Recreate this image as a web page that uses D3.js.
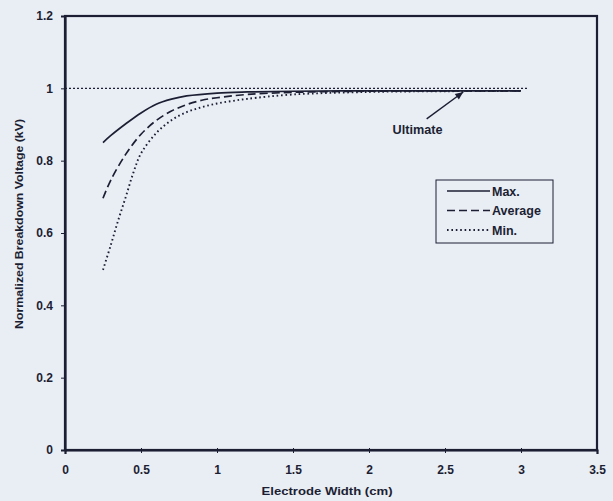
<!DOCTYPE html>
<html><head><meta charset="utf-8">
<script src="https://cdn.jsdelivr.net/npm/d3@7"></script>
<style>
html,body{margin:0;padding:0;background:#e9edf4;}
svg{display:block;}
text{font-family:"Liberation Sans",Arial,sans-serif;font-weight:bold;fill:#1c1f33;}
</style></head>
<body>
<svg id="chart" width="613" height="501"></svg>
<script>
// ---- data ----
const xTicks = [0, 0.5, 1, 1.5, 2, 2.5, 3, 3.5];
const yTicks = [0, 0.2, 0.4, 0.6, 0.8, 1, 1.2];
const xTickLabels = ["0", "0.5", "1", "1.5", "2", "2.5", "3", "3.5"];
const yTickLabels = ["0", "0.2", "0.4", "0.6", "0.8", "1", "1.2"];

const maxX = [0.25, 0.3, 0.4, 0.5, 0.6, 0.7, 0.8, 1.0, 1.2, 1.5, 2.0, 2.5, 3.0];
const maxY = [0.850, 0.869, 0.902, 0.932, 0.956, 0.970, 0.979, 0.987, 0.990, 0.992, 0.993, 0.993, 0.993];

const avgX = [0.25, 0.3, 0.4, 0.5, 0.6, 0.7, 0.8, 0.9, 1.0, 1.2, 1.5, 2.0, 2.5, 3.0];
const avgY = [0.696, 0.745, 0.818, 0.873, 0.911, 0.937, 0.955, 0.967, 0.974, 0.983, 0.989, 0.992, 0.993, 0.993];

const minX = [0.25, 0.3, 0.35, 0.4, 0.45, 0.5, 0.6, 0.7, 0.8, 0.9, 1.0, 1.1, 1.2, 1.5, 2.0, 2.5, 3.0];
const minY = [0.498, 0.565, 0.635, 0.700, 0.767, 0.820, 0.876, 0.912, 0.934, 0.948, 0.958, 0.965, 0.971, 0.983, 0.990, 0.992, 0.993];

const ultimateX = [0, 3.05];
const ultimateY = [1, 1];
const ultimatePoint = [2.62, 0.99];
const ultimateLabelPos = [2.32, 0.885];

const seriesNames = ["Max.", "Average", "Min."];

// ---- layout ----
const svg = d3.select("#chart");
const margin = {left: 65, top: 16, right: 16, bottom: 51};
const W = 613, H = 501;
const x = d3.scaleLinear().domain([0, 3.5]).range([margin.left, W - margin.right]);
const y = d3.scaleLinear().domain([0, 1.2]).range([H - margin.bottom, margin.top]);
const ink = "#1c1f33";
const font = "'Liberation Sans',Arial,sans-serif";

// plot frame
svg.append("rect")
  .attr("x", x(0)).attr("y", y(1.2))
  .attr("width", x(3.5) - x(0)).attr("height", y(0) - y(1.2))
  .attr("fill", "none").attr("stroke", ink).attr("stroke-width", 2.2);

// axes
const xAxis = d3.axisBottom(x).tickValues(xTicks).tickSize(4)
  .tickFormat((d, i) => xTickLabels[i]);
const gx = svg.append("g").attr("transform", `translate(0,${y(0)})`).call(xAxis);
gx.select(".domain").attr("stroke", ink).attr("stroke-width", 2.2);
gx.selectAll(".tick line").attr("stroke", ink).attr("y1", -2).attr("y2", 3);
gx.selectAll(".tick text").attr("dy", "1.45em").style("font-size", "12px")
  .style("font-family", font).style("font-weight", "bold").attr("fill", ink);

const yAxis = d3.axisLeft(y).tickValues(yTicks).tickSize(4)
  .tickFormat((d, i) => yTickLabels[i]);
const gy = svg.append("g").attr("transform", `translate(${x(0)},0)`).call(yAxis);
gy.select(".domain").attr("stroke", ink).attr("stroke-width", 2.2);
gy.selectAll(".tick line").attr("stroke", ink);
gy.selectAll(".tick text").attr("x", -12).style("font-size", "12px")
  .style("font-family", font).style("font-weight", "bold").attr("fill", ink);

// axis titles
svg.append("text")
  .attr("x", 327).attr("y", 495)
  .attr("text-anchor", "middle").style("font-size", "11.5px")
  .attr("textLength", 131).attr("lengthAdjust", "spacingAndGlyphs")
  .text("Electrode Width (cm)");
svg.append("text")
  .attr("transform", `translate(23,224) rotate(-90)`)
  .attr("text-anchor", "middle").style("font-size", "11px").attr("fill", "#1e2250")
  .attr("textLength", 210).attr("lengthAdjust", "spacingAndGlyphs")
  .text("Normalized Breakdown Voltage (kV)");

// lines
const line = d3.line().x(d => x(d[0])).y(d => y(d[1])).curve(d3.curveCatmullRom.alpha(0.5));
const zip = (a, b) => a.map((v, i) => [v, b[i]]);

svg.append("path").datum(zip(ultimateX, ultimateY)).attr("d", d3.line().x(d => x(d[0])).y(d => y(d[1])))
  .attr("fill", "none").attr("stroke", ink).attr("stroke-width", 1.3).attr("stroke-dasharray", "2,2");

const styles = [
  {dash: null, w: 1.7},
  {dash: "8,4", w: 1.7},
  {dash: "1.6,2.8", w: 1.9}
];
const data = [zip(maxX, maxY), zip(avgX, avgY), zip(minX, minY)];
data.forEach((d, i) => {
  svg.append("path").datum(d).attr("d", line)
    .attr("fill", "none").attr("stroke", ink).attr("stroke-width", styles[i].w)
    .attr("stroke-dasharray", styles[i].dash);
});

// ultimate annotation
const px = x(ultimatePoint[0]), py = y(ultimatePoint[1]);
const lx = x(ultimateLabelPos[0]) + 9, ly = y(ultimateLabelPos[1]) - 11;
svg.append("line").attr("x1", lx).attr("y1", ly).attr("x2", px).attr("y2", py)
  .attr("stroke", ink).attr("stroke-width", 1.4);
const ang = Math.atan2(py - ly, px - lx);
const ah = 8, aw = 3.5;
const bx = px - ah * Math.cos(ang), by = py - ah * Math.sin(ang);
svg.append("path")
  .attr("d", `M${px},${py} L${bx + aw * Math.sin(ang)},${by - aw * Math.cos(ang)} L${bx - aw * Math.sin(ang)},${by + aw * Math.cos(ang)} Z`)
  .attr("fill", ink);
svg.append("text").attr("x", x(ultimateLabelPos[0])).attr("y", y(ultimateLabelPos[1]) + 4)
  .attr("text-anchor", "middle").style("font-size", "12px")
  .attr("textLength", 50).attr("lengthAdjust", "spacingAndGlyphs").text("Ultimate");

// legend
const lg = svg.append("g");
lg.append("rect").attr("x", 436).attr("y", 180).attr("width", 117).attr("height", 63)
  .attr("fill", "none").attr("stroke", ink).attr("stroke-width", 1);
seriesNames.forEach((n, i) => {
  const yy = 191 + i * 19.5;
  lg.append("line").attr("x1", 447).attr("x2", 490).attr("y1", yy).attr("y2", yy)
    .attr("stroke", ink).attr("stroke-width", styles[i].w).attr("stroke-dasharray", styles[i].dash);
  lg.append("text").attr("x", 492).attr("y", yy + 4.5).style("font-size", "12.5px").text(n);
});
</script>
</body></html>
